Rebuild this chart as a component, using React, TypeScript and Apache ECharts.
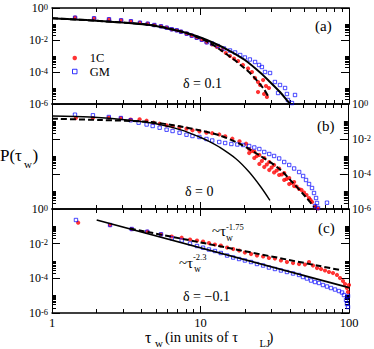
import React, { useEffect, useRef } from "react";
import * as echarts from "echarts";

// ---------- tick values ----------
const X_MAJOR = [1, 10, 100];
const X_MINOR = [2, 3, 4, 5, 6, 7, 8, 9, 20, 30, 40, 50, 60, 70, 80, 90];
const Y_MAJOR = [1e-6, 1e-4, 1e-2, 1];
const Y_MINOR = [
  2e-6, 3e-6, 4e-6, 5e-6, 6e-6, 7e-6, 8e-6, 9e-6, 1e-5,
  2e-4, 3e-4, 4e-4, 5e-4, 6e-4, 7e-4, 8e-4, 9e-4, 1e-3,
  2e-2, 3e-2, 4e-2, 5e-2, 6e-2, 7e-2, 8e-2, 9e-2, 1e-1,
];

// ---------- panel (a): delta = 0.1 ----------
const aRed: number[][] = [
  [1.43, 0.248], [1.92, 0.227], [2.42, 0.197], [2.92, 0.170], [3.40, 0.148], [3.91, 0.120],
  [4.41, 0.104], [4.89, 0.0865], [5.42, 0.0718], [5.92, 0.0587], [6.40, 0.0467], [6.92, 0.0404],
  [7.39, 0.0330], [8.07, 0.0248], [8.73, 0.0186], [9.43, 0.0139], [10.2, 0.0104], [11.0, 0.00718],
  [11.95, 5.24e-3], [12.9, 3.65e-3], [13.95, 2.37e-3], [14.8, 1.54e-3], [15.8, 1.0e-3],
  [16.8, 6.98e-4], [17.9, 4.87e-4], [19.3, 2.74e-4], [20.9, 1.66e-4], [22.2, 1.0e-4],
  [23.3, 4.22e-5], [24.4, 2.37e-5], [25.2, 1.54e-5], [26.4, 3.16e-5], [27.6, 1.33e-5],
  [24.4, 5.62e-6], [26.8, 4.22e-6], [28.0, 2.74e-6], [28.9, 1.0e-5],
];
const aBlue: number[][] = [
  [1.43, 0.248], [1.92, 0.227], [2.42, 0.197], [2.92, 0.170], [3.40, 0.148], [3.91, 0.120],
  [4.41, 0.104], [4.89, 0.0865], [5.42, 0.0718], [5.92, 0.0587], [6.40, 0.0467], [6.92, 0.0404],
  [7.39, 0.0330], [8.07, 0.0248], [8.73, 0.0186], [9.43, 0.0139], [10.2, 0.0104], [11.0, 0.00718],
  [11.95, 6.04e-3], [13.1, 4.22e-3], [14.4, 2.94e-3], [15.8, 2.21e-3], [17.1, 1.66e-3],
  [18.5, 1.15e-3], [19.9, 8.06e-4], [21.5, 6.04e-4], [23.3, 4.22e-4], [24.8, 2.74e-4],
  [25.9, 2.05e-4], [27.2, 1.0e-4], [29.4, 8.66e-5], [31.7, 2.37e-5], [34.3, 1.54e-5],
  [33.3, 4.87e-6], [37.1, 1.0e-5], [38.2, 4.22e-6], [38.8, 1.78e-6], [43.3, 3.65e-6], [41.3, 1.15e-6],
];
const aSolid: number[][] = [
  [1, 0.227], [2.10, 0.154], [4.57, 0.0866], [7.62, 0.0316], [10, 0.0143], [12.5, 6.04e-3],
  [15.8, 2.05e-3], [19.9, 5.62e-4], [25.2, 9.31e-5], [29.4, 2.37e-5], [34.3, 5.62e-6],
  [39.4, 1.24e-6], [40.4, 1e-6],
];
const aDashed: number[][] = [
  [1, 0.227], [2.10, 0.154], [4.57, 0.0866], [7.62, 0.0316], [10, 0.0124], [11.6, 6.49e-3],
  [13.5, 2.55e-3], [16.6, 6.49e-4], [19.9, 1.66e-4], [22.2, 6.49e-5], [26.4, 1e-5], [28.5, 3.16e-6],
];

// ---------- panel (b): delta = 0 ----------
const bRed: number[][] = [
  [1.45, 0.158], [1.89, 0.158], [2.42, 0.169], [2.92, 0.158], [3.40, 0.130], [3.91, 0.134],
  [4.36, 0.111], [4.86, 0.0854], [5.34, 0.0748], [5.95, 0.0607], [6.53, 0.0532], [7.28, 0.0466],
  [8.11, 0.0388], [8.90, 0.0314], [9.92, 0.0275], [11.06, 0.0229], [12.1, 0.0214], [13.5, 0.0181],
  [14.8, 0.0143], [16.55, 0.0104], [18.5, 7.39e-3], [20.5, 5.39e-3],
  [21.5, 2.68e-3], [23.3, 1.93e-3], [25.2, 1.22e-3], [27.2, 8.21e-4], [29.4, 4.85e-4],
  [31.7, 3.27e-4], [34.3, 2.06e-4], [37.1, 1.14e-4], [40.1, 5.91e-5], [43.3, 3.49e-5],
  [21.5, 1.58e-3], [23.3, 8.21e-4], [25.2, 3.73e-4], [27.2, 2.51e-4], [29.4, 1.69e-4],
  [31.7, 1.22e-4], [34.3, 8.77e-5], [37.1, 4.54e-5], [40.1, 2.68e-5], [43.3, 2.06e-5],
  [46.8, 1.39e-5], [50.5, 8.77e-6], [54.6, 4.25e-6], [57.2, 2.51e-6], [59.9, 1.39e-6], [62.8, 1.07e-6],
  [22.4, 2.06e-3], [24.2, 1.07e-3], [26.2, 5.53e-4], [28.3, 3.49e-4], [30.5, 2.35e-4],
  [33.0, 1.58e-4], [35.7, 9.36e-5], [38.5, 5.18e-5], [41.6, 3.06e-5], [45.0, 1.93e-5],
  [48.6, 1.22e-5], [52.5, 6.31e-6], [55.9, 3.27e-6],
];
const bBlue: number[][] = [
  [1.43, 0.245], [1.89, 0.226], [2.42, 0.181], [2.92, 0.158], [3.40, 0.117], [3.85, 0.0854],
  [4.36, 0.0674], [4.79, 0.0553], [5.34, 0.0442], [5.95, 0.0340], [6.53, 0.0286], [7.28, 0.0229],
  [8.11, 0.0176], [8.90, 0.0148], [9.92, 0.0130], [11.06, 0.0100], [12.1, 8.21e-3], [13.5, 6.74e-3],
  [14.8, 5.91e-3], [16.3, 5.18e-3], [17.9, 4.85e-3], [19.6, 4.54e-3], [21.5, 3.98e-3],
  [23.3, 3.27e-3], [25.2, 2.68e-3], [27.2, 1.81e-3], [29.4, 1.39e-3], [31.7, 1.07e-3],
  [34.3, 7.69e-4], [37.1, 4.85e-4], [40.1, 3.27e-4], [43.3, 2.06e-4], [46.8, 1.30e-4],
  [49.8, 7.69e-5], [52.1, 4.54e-5], [54.6, 2.68e-5], [57.2, 1.58e-5], [59.0, 8.21e-6],
  [60.9, 4.25e-6], [61.8, 2.20e-6], [59.9, 1.48e-6], [72.2, 2.29e-6], [62.8, 1.14e-6],
];
const bSolid: number[][] = [
  [1, 0.206], [1.80, 0.181], [3.35, 0.117], [5.34, 0.0674], [7.62, 0.0314], [9.92, 0.0130],
  [11.6, 7.19e-3], [13.5, 3.49e-3], [17.5, 7.48e-4], [21.5, 1.30e-4], [25.8, 1.81e-5], [29.7, 3.14e-6],
];
const bDashed: number[][] = [
  [1, 0.145], [2.10, 0.122], [4.57, 0.0937], [7.28, 0.0532], [9.92, 0.0314], [13.5, 0.0163],
  [18.5, 5.39e-3], [25.2, 1.17e-3], [34.3, 2.01e-4], [42.0, 3.49e-5], [51.9, 4.85e-6], [59.0, 1.30e-6],
];

// ---------- panel (c): delta = -0.1 ----------
const cRed: number[][] = [
  [1.50, 0.162], [2.46, 0.119], [3.44, 0.0701], [4.38, 0.0490], [5.42, 0.0347], [6.40, 0.0259],
  [7.47, 0.0221], [8.50, 0.0174], [9.47, 0.0152], [10.4, 0.0133], [11.4, 0.0109], [12.5, 8.95e-3],
  [13.7, 7.83e-3], [15.1, 6.00e-3], [16.6, 4.92e-3], [18.2, 4.03e-3], [19.9, 3.09e-3], [21.9, 2.53e-3],
  [24.0, 2.07e-3], [26.4, 1.82e-3], [28.9, 1.49e-3], [31.7, 1.39e-3], [34.8, 1.07e-3], [38.2, 8.75e-4],
  [42.0, 7.66e-4], [46.1, 6.70e-4], [50.5, 6.27e-4], [53.8, 8.75e-4], [57.2, 5.49e-4], [60.9, 3.94e-4],
  [64.8, 3.45e-4], [68.9, 2.83e-4], [73.3, 2.32e-4], [78.0, 2.03e-4], [83.0, 1.56e-4], [87.0, 1.04e-4],
  [91.1, 7.00e-5], [94.0, 4.70e-5], [96.9, 2.76e-5], [98.5, 1.63e-5], [100, 4.11e-5],
];
const cBlue: number[][] = [
  [1.45, 0.232], [2.46, 0.119], [3.44, 0.0701], [4.38, 0.0490], [5.42, 0.0347], [6.40, 0.0204],
  [7.47, 0.0152], [8.50, 0.0102], [9.47, 7.33e-3], [10.4, 5.85e-3], [11.4, 4.60e-3], [12.5, 3.77e-3],
  [13.7, 2.89e-3], [15.1, 2.07e-3], [16.6, 1.59e-3], [18.2, 1.30e-3], [19.9, 1.07e-3], [21.9, 8.75e-4],
  [24.0, 6.70e-4], [26.4, 5.49e-4], [28.9, 4.21e-4], [31.7, 3.45e-4], [34.8, 2.83e-4], [38.2, 2.32e-4],
  [42.0, 1.90e-4], [46.1, 1.56e-4], [49.0, 1.19e-4], [52.1, 9.77e-5], [55.5, 7.48e-5], [59.0, 6.14e-5],
  [62.8, 5.37e-5], [66.8, 4.11e-5], [71.1, 3.37e-5], [75.6, 2.76e-5], [80.5, 2.26e-5], [85.6, 1.85e-5],
  [89.7, 1.52e-5], [92.5, 1.09e-5], [95.5, 5.61e-6], [96.9, 3.30e-6], [98.5, 9.55e-6], [98.5, 2.21e-6],
];
const cSolid: number[][] = [[2, 0.232], [100, 2.87e-5]];
const cDashed: number[][] = [[3.35, 0.075], [87.0, 3.02e-4]];

const PANELS = [
  { red: aRed, blue: aBlue, solid: aSolid, dashed: aDashed, solidWidth: 2 },
  { red: bRed, blue: bBlue, solid: bSolid, dashed: bDashed, solidWidth: 1.4 },
  { red: cRed, blue: cBlue, solid: cSolid, dashed: cDashed, solidWidth: 1.8 },
];

const GRIDS = [
  { top: 8, height: 96 },
  { top: 104, height: 105 },
  { top: 209, height: 104 },
];

const FONT = '"Liberation Serif", "Times New Roman", Times, serif';
const BLACK = "#000";
const RED = "#ff0000";
const BLUE = "#0000ff";
const SQUARE = "path://M0,0L10,0L10,10L0,10Z";

function xAxes(g: number) {
  const base = {
    type: "log", logBase: 10, min: 1, max: 100, gridIndex: g,
    splitLine: { show: false }, splitArea: { show: false },
  };
  const major = (pos: string, labels: boolean) => ({
    ...base,
    position: pos,
    axisLine: { show: true, lineStyle: { color: BLACK, width: 1.5 } },
    axisTick: { show: true, inside: true, length: 7, customValues: X_MAJOR, lineStyle: { color: BLACK, width: 1 } },
    axisLabel: labels
      ? {
          show: true, customValues: X_MAJOR, margin: 3, fontFamily: FONT, fontSize: 12.5, color: BLACK,
          formatter: (v: number) => String(Math.round(v)),
        }
      : { show: false },
  });
  const minor = (pos: string) => ({
    ...base,
    position: pos,
    axisLine: { show: false },
    axisTick: { show: true, inside: true, length: 4, customValues: X_MINOR, lineStyle: { color: BLACK, width: 1 } },
    axisLabel: { show: false },
  });
  return [major("bottom", g === 2), minor("bottom"), major("top", false), minor("top")];
}

function yAxes(g: number) {
  const base = {
    type: "log", logBase: 10, min: 1e-6, max: 1, gridIndex: g,
    splitLine: { show: false }, splitArea: { show: false },
  };
  const major = (pos: string, labels: boolean) => ({
    ...base,
    position: pos,
    axisLine: { show: true, lineStyle: { color: BLACK, width: 1 } },
    axisTick: { show: true, inside: true, length: 8, customValues: Y_MAJOR, lineStyle: { color: BLACK, width: 1 } },
    axisLabel: labels
      ? {
          show: true, customValues: Y_MAJOR, margin: 4,
          formatter: (v: number) => `{b|10}{s|${Math.round(Math.log10(v))}}`,
          rich: {
            b: { fontFamily: FONT, fontSize: 12, color: BLACK, lineHeight: 12, verticalAlign: "bottom" },
            s: { fontFamily: FONT, fontSize: 8.5, color: BLACK, lineHeight: 9, verticalAlign: "top", padding: [0, 0, 7, 0] },
          },
        }
      : { show: false },
  });
  const minor = (pos: string) => ({
    ...base,
    position: pos,
    axisLine: { show: false },
    axisTick: { show: true, inside: true, length: 4, customValues: Y_MINOR, lineStyle: { color: BLACK, width: 1 } },
    axisLabel: { show: false },
  });
  return [major("left", g !== 1), minor("left"), major("right", g === 1), minor("right")];
}

function txt(text: string, x: number, y: number, fontSize: number) {
  return {
    type: "text", x, y, silent: true, z: 10,
    style: {
      text, fontSize, fontFamily: FONT, fill: BLACK,
      align: "left", verticalAlign: "middle", textAlign: "left", textVerticalAlign: "middle",
    },
  };
}

export default function App() {
  const ref = useRef<HTMLDivElement>(null);
  useEffect(() => {
    if (!ref.current) return;
    const chart = echarts.init(ref.current, undefined, { renderer: "svg" });
    const series: any[] = [];
    PANELS.forEach((p, g) => {
      const ax = { xAxisIndex: g * 4, yAxisIndex: g * 4 };
      series.push({
        type: "scatter", name: "1C", ...ax, data: p.red, symbol: "circle", symbolSize: 4.2,
        itemStyle: { color: RED }, z: 2, silent: true,
      });
      series.push({
        type: "scatter", name: "GM", ...ax, data: p.blue, symbol: "rect", symbolSize: 3.4,
        itemStyle: { color: "transparent", borderColor: BLUE, borderWidth: 0.9 }, z: 3, silent: true,
      });
      series.push({
        type: "line", ...ax, data: p.solid, showSymbol: false, symbol: "none", smooth: 0.3,
        lineStyle: { color: BLACK, width: p.solidWidth, type: "solid" }, z: 4, silent: true,
      });
      series.push({
        type: "line", ...ax, data: p.dashed, showSymbol: false, symbol: "none", smooth: 0.3,
        lineStyle: { color: BLACK, width: 2, type: [6, 3] }, z: 4, silent: true,
      });
    });

    const option: any = {
      animation: false,
      backgroundColor: "#fff",
      grid: GRIDS.map((g) => ({ left: 52, width: 297, top: g.top, height: g.height, containLabel: false, show: false })),
      xAxis: [...xAxes(0), ...xAxes(1), ...xAxes(2)],
      yAxis: [...yAxes(0), ...yAxes(1), ...yAxes(2)],
      legend: {
        orient: "vertical", left: 72, top: 51.5, itemWidth: 20, itemHeight: 4.5, itemGap: 0.5, padding: 0,
        selectedMode: false, symbolKeepAspect: true,
        textStyle: { fontFamily: FONT, fontSize: 12.5, color: BLACK, lineHeight: 9 },
        data: [
          { name: "1C", icon: "circle", itemStyle: { color: RED } },
          { name: "GM", icon: SQUARE, itemStyle: { color: "transparent", borderColor: BLUE, borderWidth: 1 } },
        ],
      },
      graphic: [
        txt("P(τ", 0, 155, 17),
        txt("w", 24, 163.5, 11),
        txt(")", 32.5, 155, 17),
        txt("τ", 145, 337.5, 16),
        txt("w", 155, 343, 11),
        txt("(in units of τ", 165, 337, 14.5),
        txt("LJ", 259.5, 343, 10.5),
        txt(")", 268.5, 337, 14.5),
        txt("(a)", 315, 26, 15),
        txt("(b)", 317, 126, 15),
        txt("(c)", 318, 228, 15),
        txt("δ = 0.1", 183, 83, 14),
        txt("δ = 0", 185, 191, 14),
        txt("δ = −0.1", 183, 296, 14),
        txt("~τ", 212, 231, 15),
        txt("-1.75", 226, 227, 8.5),
        txt("w", 226, 237.5, 9.5),
        txt("~τ", 179, 262.5, 15),
        txt("-2.3", 193, 257, 8.5),
        txt("w", 194, 268.5, 9.5),
      ],
      series,
    };
    chart.setOption(option);
    return () => chart.dispose();
  }, []);
  return (
    <div
      ref={ref}
      style={{ position: "fixed", left: 0, top: 0, width: 374, height: 349, background: "#fff" }}
    />
  );
}
